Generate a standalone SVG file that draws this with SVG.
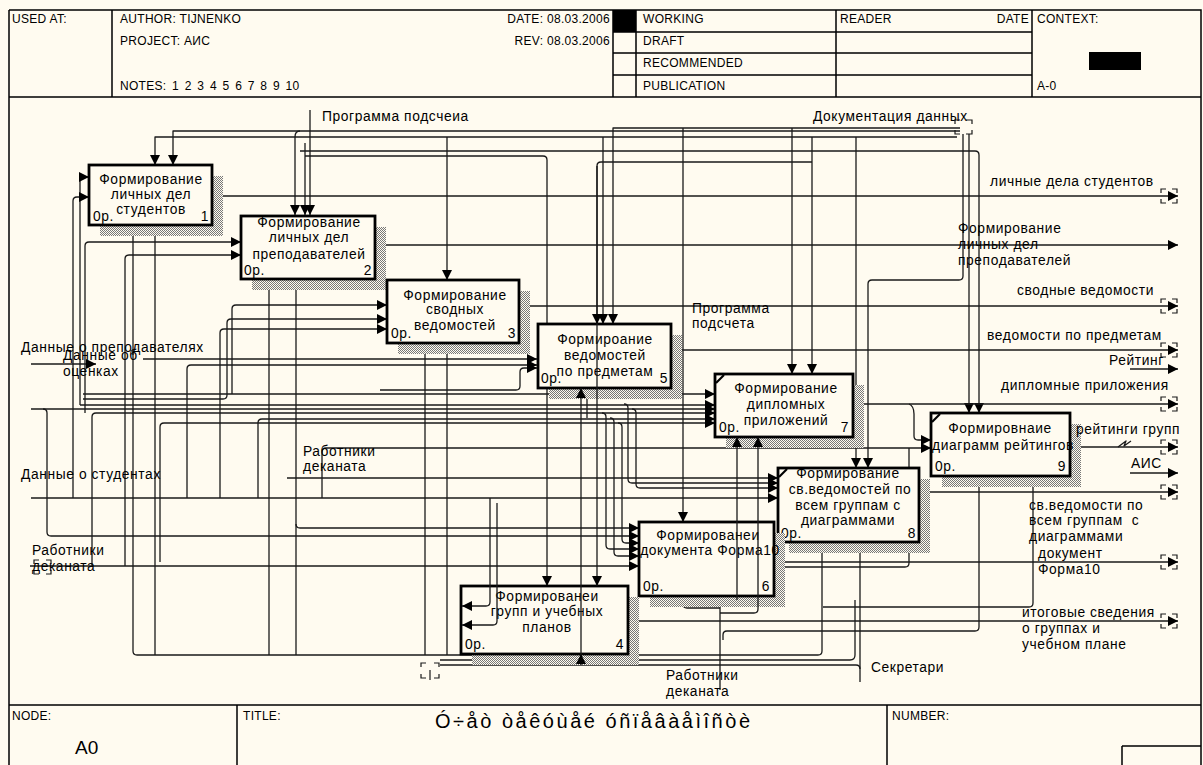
<svg xmlns="http://www.w3.org/2000/svg" width="1203" height="765" viewBox="0 0 1203 765">
<style>
text{font-family:"Liberation Sans",Arial,sans-serif;fill:#000}
.t{font-size:13.8px;letter-spacing:0.6px}
.m{text-anchor:middle}
.e{text-anchor:end}
.h{font-size:12px;letter-spacing:0.3px}
.f{fill:none;stroke:#000;stroke-width:1.5}
.b{fill:#fffbf0;stroke:#000;stroke-width:2.8}
.s{fill:url(#hat)}
.c{fill:none;stroke:#1a1a1a;stroke-width:1.3;stroke-linejoin:round}
.a{marker-end:url(#ah)}
.k{fill:none;stroke:#1a1a1a;stroke-width:1.2}
.cm{stroke:#000;stroke-width:2.2}
</style>
<defs>
<pattern id="hat" width="2" height="2" patternUnits="userSpaceOnUse"><rect width="2" height="2" fill="#fffbf0"/><rect width="1" height="1" fill="#777"/><rect x="1" y="1" width="1" height="1" fill="#777"/></pattern>
<marker id="ah" viewBox="0 0 10 10" refX="10" refY="5" markerWidth="10" markerHeight="10" markerUnits="userSpaceOnUse" orient="auto"><path d="M0,0 L10,5 L0,10 z" fill="#000"/></marker>
</defs>
<rect width="1203" height="765" fill="#fffbf0"/>

<g id="frame">
<path class="f" d="M9,10 H1201 V765 M9,10 V765 M9,97 H1201 M9,705 H1201"/>
<path class="f" d="M112,10 V97 M613,10 V97 M636,10 V97 M836,10 V97 M1032,10 V97 M613,32 H1032 M613,53 H1032 M613,75 H1032"/>
<rect x="613" y="10" width="23" height="22" fill="#000"/>
<rect x="1089" y="52" width="52" height="18" fill="#000"/>
<path class="f" d="M237,705 V765 M887,705 V765 M1122,746 H1201 M1122,746 V765"/>
<text class="h" x="12" y="23">USED AT:</text>
<text class="h" x="120" y="23">AUTHOR: TIJNENKO</text>
<text class="h" x="120" y="45">PROJECT: АИС</text>
<text class="h" x="120" y="90" style="word-spacing:2px">NOTES: 1 2 3 4 5 6 7 8 9 10</text>
<text class="h e" x="610" y="23">DATE: 08.03.2006</text>
<text class="h e" x="610" y="45">REV:   08.03.2006</text>
<text class="h" x="643" y="23">WORKING</text>
<text class="h" x="643" y="45">DRAFT</text>
<text class="h" x="643" y="67">RECOMMENDED</text>
<text class="h" x="643" y="90">PUBLICATION</text>
<text class="h" x="840" y="23">READER</text>
<text class="h e" x="1029" y="23">DATE</text>
<text class="h" x="1037" y="23">CONTEXT:</text>
<text class="h" x="1037" y="90">A-0</text>
<text class="h" x="12" y="720">NODE:</text>
<text class="h" x="243" y="720">TITLE:</text>
<text class="h" x="892" y="720">NUMBER:</text>
<text x="75" y="754" style="font-size:19px">A0</text>
<text x="435" y="728" style="font-size:20px" textLength="315" lengthAdjust="spacing">Ó÷åò òåêóùåé óñïåâàåìîñòè</text>
</g>

<g id="connectors">
<path class="c a" d="M310,110 V215"/>
<path class="c a" d="M960,128 H613 V324"/>
<path class="c a" d="M683,128 V522"/>
<path class="c a" d="M792,128 V374"/>
<path class="c a" d="M960,131 H173 V165"/>
<path class="c a" d="M957,137 H155 V165"/>
<path class="c a" d="M447,137 V280"/>
<path class="c a" d="M603,137 V324"/>
<path class="c a" d="M812,137 V374"/>
<path class="c a" d="M856,137 V468"/>
<path class="c a" d="M300,131 Q295,131 295,137 V215"/>
<path class="c a" d="M305,143 V215"/>
<path class="c a" d="M300,151 H975 Q979,151 979,155 V413"/>
<path class="c a" d="M305,156 H543 Q547,156 547,160 V586"/>
<path class="c" d="M812,162 H601 Q597,162 597,166 V324"/>
<path class="c a" d="M963,134 V276 Q963,280 959,280 H872 Q868,280 868,284 V468"/>
<path class="c a" d="M969,134 V413"/>

<path class="c a" d="M212,196 H1178"/>
<path class="c a" d="M375,245 H1178"/>
<path class="c a" d="M519,306 H1178"/>
<path class="c a" d="M671,350 H1178"/>
<path class="c a" d="M1130,369 H1178"/>
<path class="c a" d="M853,404 H1178"/>
<path class="c a" d="M1070,447 H1178"/>
<path class="c a" d="M1130,473 H1178"/>
<path class="c a" d="M919,492 H1178"/>
<path class="c a" d="M774,562 H1178"/>
<path class="c a" d="M628,621 H1178"/>

<path class="c a" d="M31,364 H96"/>
<path class="c a" d="M143,359 H537"/>
<path class="c a" d="M187,498 V369 Q187,365 191,365 H537"/>
<path class="c a" d="M380,390 H516 Q520,390 520,386 V372 Q520,368 524,368 H537"/>
<path class="c a" d="M80,405 V181 Q80,177 84,177 H89"/>
<path class="c a" d="M73,498 V201 Q73,197 77,197 H89"/>
<path class="c a" d="M85,413 V246 Q85,242 89,242 H241"/>
<path class="c a" d="M125,566 V259 Q125,255 129,255 H241"/>
<path class="c a" d="M232,394 V309 Q232,305 236,305 H387"/>
<path class="c a" d="M83,399 H223 Q227,399 227,395 V323 Q227,319 231,319 H387"/>
<path class="c a" d="M220,498 V333 Q220,329 224,329 H387"/>
<path class="c a" d="M83,394 H715"/>
<path class="c a" d="M80,405 H715"/>
<path class="c a" d="M31,409 H715"/>
<path class="c a" d="M92,566 V417 Q92,413 96,413 H715"/>
<path class="c a" d="M258,498 V423 Q258,419 262,419 H715"/>
<path class="c a" d="M160,562 V427 Q160,423 164,423 H715"/>
<path class="c a" d="M43,409 Q47,409 47,413 V532 Q47,536 51,536 H639"/>
<path class="c a" d="M31,498 H778"/>
<path class="c a" d="M287,478 H778"/>
<path class="c a" d="M296,524 Q296,528 300,528 H639"/>
<path class="c a" d="M30,566 H639"/>
<path class="c a" d="M322,498 V452 Q322,448 326,448 H931"/>
<path class="c a" d="M909,404 Q914,406 914,414 V436 Q914,440 918,440 H931"/>
<path class="c" d="M774,567 H905 Q909,567 909,563 V448"/>
<path class="c a" d="M602,413 Q606,413 606,417 V545 Q606,549 610,549 H639"/>
<path class="c a" d="M610,418 Q614,418 614,422 V552 Q614,556 618,556 H639"/>
<path class="c a" d="M618,423 Q622,423 622,427 V539 Q622,543 626,543 H639"/>
<path class="c a" d="M624,404 Q628,404 628,408 V479 Q628,483 632,483 H778"/>
<path class="c a" d="M632,409 Q636,409 636,413 V484 Q636,488 640,488 H778"/>

<path class="c a" d="M133,651 V225"/>
<path class="c a" d="M155,655 V225"/>
<path class="c a" d="M269,655 V279"/>
<path class="c a" d="M296,655 V279"/>
<path class="c a" d="M425,655 V343"/>
<path class="c a" d="M447,655 V343"/>
<path class="c a" d="M133,651 Q133,655 137,655 H818 Q822,655 822,651 V542"/>
<path class="c" d="M440,660 H850 Q855,660 855,655 V600"/>
<path class="c" d="M440,665 H856 Q860,665 860,669"/>
<path class="c a" d="M860,682 V542"/>
<path class="c a" d="M538,665 V654"/>
<path class="c a" d="M720,690 V596"/>
<path class="c a" d="M720,608 H687 Q683,608 683,604 V596"/>
<path class="c a" d="M723,640 V635 Q723,631 727,631 H975 Q979,631 979,627 V476"/>
<path class="c a" d="M823,607 H1029 Q1033,607 1033,603 V476"/>
<path class="c a" d="M587,418 V388"/>
<path class="c" d="M1118,447 L1126,441 L1124,446 L1131,441"/>

<path class="k" d="M1166,189 H1161 V193 M1166,203 H1161 V199 M1172,189 H1177 V193 M1172,203 H1177 V199"/>
<path class="k" d="M1166,299 H1161 V303 M1166,313 H1161 V309 M1172,299 H1177 V303 M1172,313 H1177 V309"/>
<path class="k" d="M1166,343 H1161 V347 M1166,357 H1161 V353 M1172,343 H1177 V347 M1172,357 H1177 V353"/>
<path class="k" d="M1166,397 H1161 V401 M1166,411 H1161 V407 M1172,397 H1177 V401 M1172,411 H1177 V407"/>
<path class="k" d="M1166,440 H1161 V444 M1166,454 H1161 V450 M1172,440 H1177 V444 M1172,454 H1177 V450"/>
<path class="k" d="M1166,485 H1161 V489 M1166,499 H1161 V495 M1172,485 H1177 V489 M1172,499 H1177 V495"/>
<path class="k" d="M1166,555 H1161 V559 M1166,569 H1161 V565 M1172,555 H1177 V559 M1172,569 H1177 V565"/>
<path class="k" d="M1166,614 H1161 V618 M1166,628 H1161 V624 M1172,614 H1177 V618 M1172,628 H1177 V624"/>
<path class="k" d="M960,120 H955 V124 M960,134 H955 V130 M966,120 H972 V124 M966,134 H972 V130"/>
<path class="k" d="M426,663 H421 V667 M426,678 H421 V674 M434,663 H439 V667 M434,678 H439 V674 M430,670 V680"/>
<path class="k" d="M39,560 H34 V564 M39,574 H34 V570 M46,560 H51 V564 M46,574 H51 V570"/>
</g>

<g id="box1"><rect class="s" x="100" y="176" width="123" height="60"/><rect class="b" x="89" y="165" width="123" height="60"/>
<text class="t m" x="151" y="184">Формирование</text><text class="t m" x="151" y="199">личных дел</text><text class="t m" x="151" y="214">студентов</text>
<text class="t" x="93" y="221">0р.</text><text class="t e" x="209" y="221">1</text></g>

<g id="box2"><rect class="s" x="252" y="227" width="134" height="63"/><rect class="b" x="241" y="216" width="134" height="63"/>
<text class="t m" x="309" y="227">Формирование</text><text class="t m" x="309" y="242">личных дел</text><text class="t m" x="309" y="259">преподавателей</text>
<text class="t" x="244" y="275">0р.</text><text class="t e" x="372" y="275">2</text></g>

<g id="box3"><rect class="s" x="398" y="291" width="132" height="63"/><rect class="b" x="387" y="280" width="132" height="63"/>
<text class="t m" x="455" y="300">Формирование</text><text class="t m" x="455" y="314">сводных</text><text class="t m" x="455" y="330">ведомостей</text>
<text class="t" x="391" y="338">0р.</text><text class="t e" x="516" y="338">3</text></g>

<g id="box5"><rect class="s" x="549" y="335" width="133" height="64"/><rect class="b" x="538" y="324" width="133" height="64"/>
<text class="t m" x="605" y="344">Формироание</text><text class="t m" x="605" y="360">ведомостей</text><text class="t m" x="605" y="376">по предметам</text>
<text class="t" x="541" y="383">0р.</text><text class="t e" x="668" y="383">5</text></g>

<g id="box7"><rect class="s" x="726" y="385" width="138" height="63"/><rect class="b" x="715" y="374" width="138" height="63"/>
<path class="cm" d="M716,383 L724,375"/>
<text class="t m" x="786" y="393">Формирование</text><text class="t m" x="786" y="409">дипломных</text><text class="t m" x="786" y="425">приложений</text>
<text class="t" x="719" y="432">0р.</text><text class="t e" x="849" y="432">7</text></g>

<g id="box9"><rect class="s" x="942" y="424" width="139" height="63"/><rect class="b" x="931" y="413" width="139" height="63"/>
<path class="cm" d="M932,422 L940,414"/>
<text class="t m" x="1000" y="433">Формировнаие</text><text class="t m" x="1003" y="450">диаграмм рейтингов</text>
<text class="t" x="935" y="471">0р.</text><text class="t e" x="1066" y="471">9</text></g>

<g id="box8"><rect class="s" x="789" y="479" width="141" height="74"/><rect class="b" x="778" y="468" width="141" height="74"/>
<path class="cm" d="M779,477 L787,469"/>
<text class="t m" x="848" y="478">Формирование</text><text class="t m" x="850" y="494">св.ведомостей по</text><text class="t m" x="848" y="510">всем группам с</text><text class="t m" x="848" y="525">диаграммами</text>
<text class="t" x="781" y="538">0р.</text><text class="t e" x="916" y="538">8</text></g>

<g id="box6"><rect class="s" x="650" y="533" width="135" height="74"/><rect class="b" x="639" y="522" width="135" height="74"/>
<text class="t m" x="708" y="540">Формированеи</text><text class="t m" x="710" y="555">документа Форма10</text>
<text class="t" x="643" y="591">0р.</text><text class="t e" x="770" y="591">6</text></g>

<g id="box4"><rect class="s" x="472" y="597" width="167" height="68"/><rect class="b" x="461" y="586" width="167" height="68"/>
<text class="t m" x="547" y="601">Формированеи</text><text class="t m" x="547" y="616">групп и учебных</text><text class="t m" x="547" y="632">планов</text>
<text class="t" x="465" y="649">0р.</text><text class="t e" x="624" y="649">4</text></g>

<g id="connectors-over">
<path class="c a" d="M597,166 V586"/>
<path class="c a" d="M597,316 V324"/>
<path class="c a" d="M581,665 V388"/>
<path class="c a" d="M581,664 V654"/>
<path class="c a" d="M720,613 H754 Q758,613 758,609 V437"/>
<path class="c a" d="M737,600 V437"/>
<path class="c a" d="M490,498 V602 Q490,606 486,606 H462"/>
<path class="c a" d="M497,503 V621 Q497,625 493,625 H462"/>
</g>

<g id="labels">
<text class="t" x="322" y="121">Программа подсчеиа</text>
<text class="t" x="813" y="121">Документация данных</text>
<text class="t" x="990" y="186">личные дела студентов</text>
<text class="t" x="958" y="233">Формирование</text>
<text class="t" x="958" y="249">личных дел</text>
<text class="t" x="958" y="265">преподавателей</text>
<text class="t" x="1017" y="295">сводные ведомости</text>
<text class="t" x="692" y="313">Программа</text>
<text class="t" x="692" y="328">подсчета</text>
<text class="t" x="987" y="340">ведомости по предметам</text>
<text class="t" x="1109" y="365">Рейтинг</text>
<text class="t" x="1001" y="390">дипломные приложения</text>
<text class="t" x="1076" y="434">рейтинги групп</text>
<text class="t" x="1131" y="468">АИС</text>
<text class="t" x="1029" y="510">св.ведомости по</text>
<text class="t" x="1029" y="525" style="white-space:pre">всем группам  с</text>
<text class="t" x="1029" y="541">диаграммами</text>
<text class="t" x="1038" y="558">документ</text>
<text class="t" x="1038" y="574">Форма10</text>
<text class="t" x="1022" y="617">итоговые сведения</text>
<text class="t" x="1022" y="633">о группах и</text>
<text class="t" x="1022" y="649">учебном плане</text>
<text class="t" x="871" y="672">Секретари</text>
<text class="t" x="666" y="680">Работники</text>
<text class="t" x="666" y="696">деканата</text>
<text class="t" x="21" y="352">Данные о преподавателях</text>
<text class="t" x="63" y="360">Данные об</text>
<text class="t" x="63" y="376">оценках</text>
<text class="t" x="21" y="479">Данные о студентах</text>
<text class="t" x="303" y="456">Работники</text>
<text class="t" x="303" y="471">деканата</text>
<text class="t" x="32" y="555">Работники</text>
<text class="t" x="32" y="571">деканата</text>
</g>
</svg>
